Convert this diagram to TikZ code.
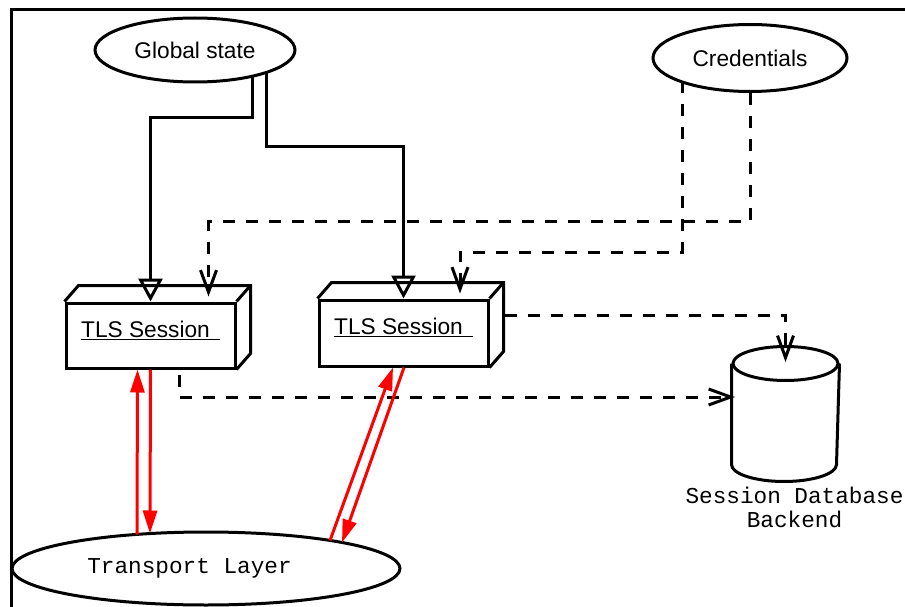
\documentclass[tikz,border=0pt]{standalone}
\usepackage{fontspec}
\setmainfont{Liberation Sans}
\newfontfamily\courfont{Liberation Mono}
\usetikzlibrary{calc,positioning,arrows.meta,shapes.geometric}

\begin{document}
\begin{tikzpicture}[x=1pt,y=-1pt,line width=3pt,
    every node/.style={font=\fontsize{22.7}{24}\selectfont},
    oval/.style={ellipse,draw,fill=white,inner sep=0pt},
    tlsbox/.style={rectangle,draw,minimum width=169pt,minimum height=65pt,inner sep=0pt,text depth=13pt},
    feed/.style={-{Triangle[open,length=23pt,width=24pt]}},
    dashline/.style={dash pattern=on 12pt off 11pt,-{Straight Barb[length=22pt,width=16pt]}},
    redline/.style={red,-{Triangle[length=23pt,width=14pt]}}]
    \useasboundingbox (0,0) rectangle (905,607);
    \draw (905,10) -- (11,10) -- (11,607);
    \node[oval,minimum width=200pt,minimum height=64pt] (gs) at (195,50) {Global state};
    \node[oval,minimum width=194pt,minimum height=67pt] (cr) at (750,58) {Credentials};
    \node[tlsbox] (tlsA) at (150.5,335.5) {\underline{TLS Session\hspace{10pt}}};
    \node[tlsbox,minimum height=66pt] (tlsB) at (403.5,333) {\underline{TLS Session\hspace{10pt}}};
    \foreach \b in {tlsA,tlsB}
        \draw (\b.north west) -- ++(14,-16) -| ($(\b.south east)+(14,-16)$) -- (\b.south east) (\b.north east) -- ++(14,-16);
    \node[minimum width=105pt,minimum height=132pt,inner sep=0pt] (db) at (785.5,414) {};
    \draw ($(db.north)+(0,17)$) ellipse[x radius=52.5,y radius=17];
    \draw ($(db.north west)+(0,17)$) -- ($(db.south west)+(0,-17)$) arc[start angle=180,end angle=0,x radius=52.5,y radius=17] -- ($(db.north east)+(0,17)$);
    \node[below=1pt of db,xshift=9pt,align=center,font=\courfont\fontsize{22.7}{24}\selectfont] (dbl) {Session Database\\Backend};
    \node[oval,minimum width=388pt,minimum height=73pt] (tl) at (206,568.5) {\courfont Transport Layer\hspace{33pt}\mbox{}};
    \draw[feed] ($(gs.center)+(57,26)$) -- ++(0,42) -| (tlsA.north);
    \draw[feed] ($(gs.center)+(71,22)$) -- ++(0,75) -| (tlsB.north);
    \draw[dashline] (cr.south) -- ++(0,128.5) -| ($(tlsA.north)+(58,-5)$);
    \draw[dashline] ($(cr.center)+(-68,23)$) -- ++(0,171) -| ($(tlsB.north)+(56.5,-5)$);
    \draw[dashline] ($(tlsB.east)+(15,-18)$) -| ($(db.center)+(0,-52)$);
    \draw[dashline] ($(tlsA.south)+(28.5,5)$) |- ($(db.center)+(-50.5,-17)$);
    \draw[redline] ($(tl.center)+(-69,-34)$) -- ($(tlsA.south)+(-13,0)$);
    \draw[redline] (tlsA.south) -- ($(tl.center)+(-56,-35)$);
    \draw[redline] ($(tl.center)+(124,-28)$) -- ($(tlsB.south)+(-10.5,0)$);
    \draw[redline] ($(tlsB.south)+(0.5,0)$) -- ($(tl.center)+(136,-26)$);
\end{tikzpicture}
\end{document}
